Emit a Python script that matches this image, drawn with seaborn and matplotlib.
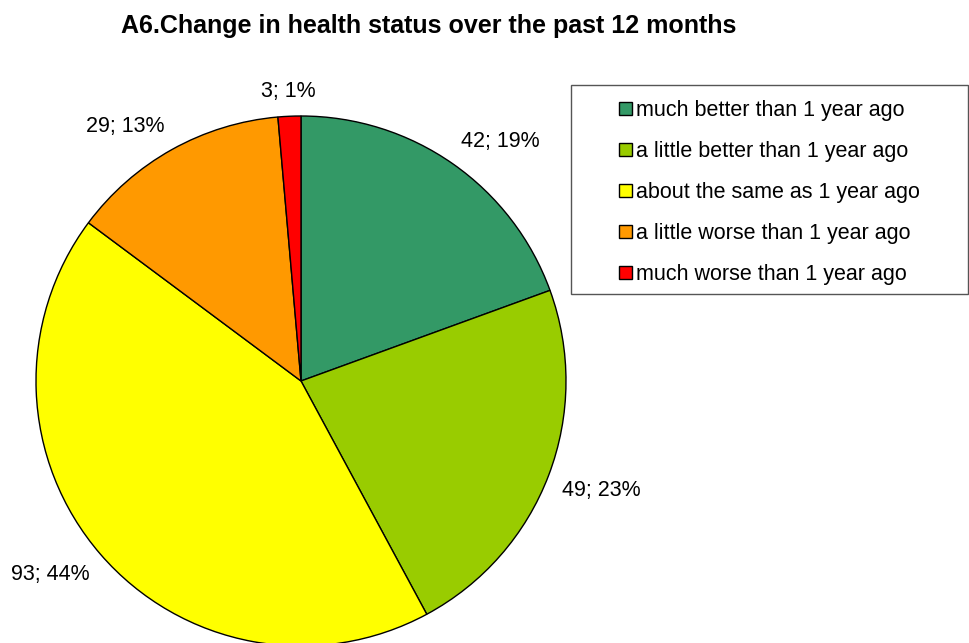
import numpy as np
import matplotlib.pyplot as plt
import matplotlib.patches as mpatches
import seaborn as sns

sns.set_style('white')
plt.rcParams['font.family'] = ['Liberation Sans', 'DejaVu Sans']
plt.rcParams['text.color'] = 'black'

# 데이터
categories = ['much better than 1 year ago', 'a little better than 1 year ago',
              'about the same as 1 year ago', 'a little worse than 1 year ago',
              'much worse than 1 year ago']
counts = [42, 49, 93, 29, 3]
pct_shown = [19, 23, 44, 13, 1]
colors = ['#339966', '#99CC00', '#FFFF00', '#FF9900', '#FF0000']

fig = plt.figure(figsize=(9.69, 6.43), dpi=100)
ax = fig.add_axes([0, 0, 1, 1])

labels = [f'{c}; {p}%' for c, p in zip(counts, pct_shown)]
wedges, texts = ax.pie(counts, colors=colors, startangle=90, counterclock=False,
                       center=(301, 262), radius=265, labels=labels, labeldistance=1.055,
                       wedgeprops=dict(edgecolor='black', linewidth=1),
                       textprops=dict(fontsize=15.5, color='black'))
# 라벨 정렬: 파이에 가장 가까운 모서리를 기준점에 맞춤 (엑셀 방식)
for w, t in zip(wedges, texts):
    mid = np.deg2rad((w.theta1 + w.theta2) / 2)
    c, s = np.cos(mid), np.sin(mid)
    t.set_ha('center' if abs(c) < 0.15 else ('left' if c > 0 else 'right'))
    t.set_va('bottom' if s > 0 else 'top')

ax.set_xlim(0, 969)
ax.set_ylim(0, 643)
ax.set_aspect('equal')
ax.axis('off')

fig.text(0.442, 0.96, 'A6.Change in health status over the past 12 months',
         ha='center', va='center', fontsize=18, fontweight='bold', color='black')

# 범례 테두리
fig.patches.append(mpatches.Rectangle((571 / 969, 1 - 294 / 643), 397 / 969, 209 / 643,
                                      transform=fig.transFigure, fill=False,
                                      edgecolor='#555555', linewidth=1))
fig.legend(wedges, categories, loc='upper left', bbox_to_anchor=(619 / 969, 1 - 100 / 643),
           frameon=False, fontsize=15.5, handlelength=0.6, handleheight=0.6,
           handletextpad=0.2, labelspacing=0.93, borderpad=0, borderaxespad=0,
           labelcolor='black')

fig.savefig('out.png', dpi=100)
